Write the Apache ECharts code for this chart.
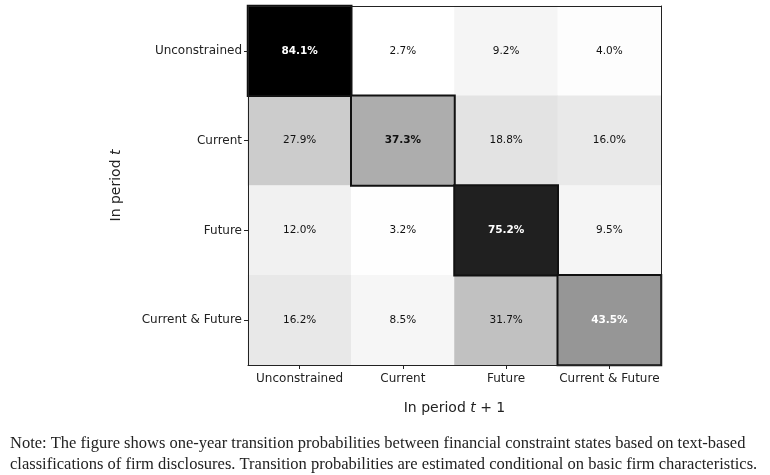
<!DOCTYPE html>
<html><head><meta charset="utf-8">
<script src="https://cdn.jsdelivr.net/npm/echarts@6/dist/echarts.min.js"></script>
<style>html,body{margin:0;padding:0;background:#fff}#c{width:770px;height:475px}</style>
</head><body><div id="c"></div>
<script>
const fromStates = ['Unconstrained', 'Current', 'Future', 'Current & Future'];
const toStates = ['Unconstrained', 'Current', 'Future', 'Current & Future'];
const rowUnconstrained = [84.1, 2.7, 9.2, 4.0];
const rowCurrent = [27.9, 37.3, 18.8, 16.0];
const rowFuture = [12.0, 3.2, 75.2, 9.5];
const rowCurrentFuture = [16.2, 8.5, 31.7, 43.5];
const rows = [rowUnconstrained, rowCurrent, rowFuture, rowCurrentFuture];
const greys = ['#ffffff','#f0f0f0','#d9d9d9','#bdbdbd','#969696','#737373','#525252','#252525','#000000'];

const offDiag = [], diag = [];
rows.forEach((r, i) => r.forEach((v, j) => {
  const item = {
    value: [j, i, v],
    label: { color: v > 40 ? '#ffffff' : '#111111', fontWeight: i === j ? 'bold' : 'normal' }
  };
  if (i === j) { item.itemStyle = { borderColor: '#111', borderWidth: 2 }; diag.push(item); }
  else offDiag.push(item);
}));
const allVals = rows.flat();

const chart = echarts.init(document.getElementById('c'));
const fontFam = 'DejaVu Sans';
chart.setOption({
  animation: false,
  grid: { left: 248, right: 109, top: 6, bottom: 110 },
  visualMap: { show: false, min: Math.min(...allVals), max: Math.max(...allVals), inRange: { color: greys }, dimension: 2 },
  xAxis: [{
    type: 'category', data: toStates, position: 'bottom', z: 5,
    axisLine: { lineStyle: { color: '#222', width: 1 } },
    axisTick: { show: true, alignWithLabel: true, length: 4, lineStyle: { color: '#222' } },
    axisLabel: { color: '#222', fontSize: 12, fontFamily: fontFam, margin: 8, interval: 0 },
    splitLine: { show: false },
    name: 'In period {i|t} + 1', nameLocation: 'middle', nameGap: 36,
    nameTextStyle: { color: '#222', fontSize: 14, fontFamily: fontFam, rich: { i: { fontStyle: 'italic', fontSize: 14, fontFamily: fontFam, color: '#222' } } }
  }, {
    type: 'category', data: toStates, position: 'top', z: 5,
    axisLine: { lineStyle: { color: '#222', width: 1 } },
    axisTick: { show: false }, axisLabel: { show: false }
  }],
  yAxis: [{
    type: 'category', data: fromStates, inverse: true, position: 'left', z: 5,
    axisLine: { lineStyle: { color: '#222', width: 1 } },
    axisTick: { show: true, alignWithLabel: true, length: 4, lineStyle: { color: '#222' } },
    axisLabel: { color: '#222', fontSize: 12, fontFamily: fontFam, margin: 6, interval: 0 },
    splitLine: { show: false },
    name: 'In period {i|t}', nameLocation: 'middle', nameGap: 125, nameRotate: 90,
    nameTextStyle: { color: '#222', fontSize: 14, fontFamily: fontFam, rich: { i: { fontStyle: 'italic', fontSize: 14, fontFamily: fontFam, color: '#222' } } }
  }, {
    type: 'category', data: fromStates, inverse: true, position: 'right', z: 5,
    axisLine: { lineStyle: { color: '#222', width: 1 } },
    axisTick: { show: false }, axisLabel: { show: false }
  }],
  series: [{
    type: 'heatmap', xAxisIndex: 0, yAxisIndex: 0,
    data: offDiag.concat(diag),
    label: { show: true, fontSize: 10.5, fontFamily: fontFam, formatter: p => p.value[2].toFixed(1) + '%' },
    emphasis: { disabled: true }
  }],
  graphic: [
    { type: 'text', left: 10, top: 435, style: { text: 'Note: The figure shows one-year transition probabilities between financial constraint states based on text-based', font: '16.5px "Liberation Serif"', fill: '#222' } },
    { type: 'text', left: 10, top: 456, style: { text: 'classifications of firm disclosures. Transition probabilities are estimated conditional on basic firm characteristics.', font: '16.5px "Liberation Serif"', fill: '#222' } }
  ]
});
</script></body></html>
